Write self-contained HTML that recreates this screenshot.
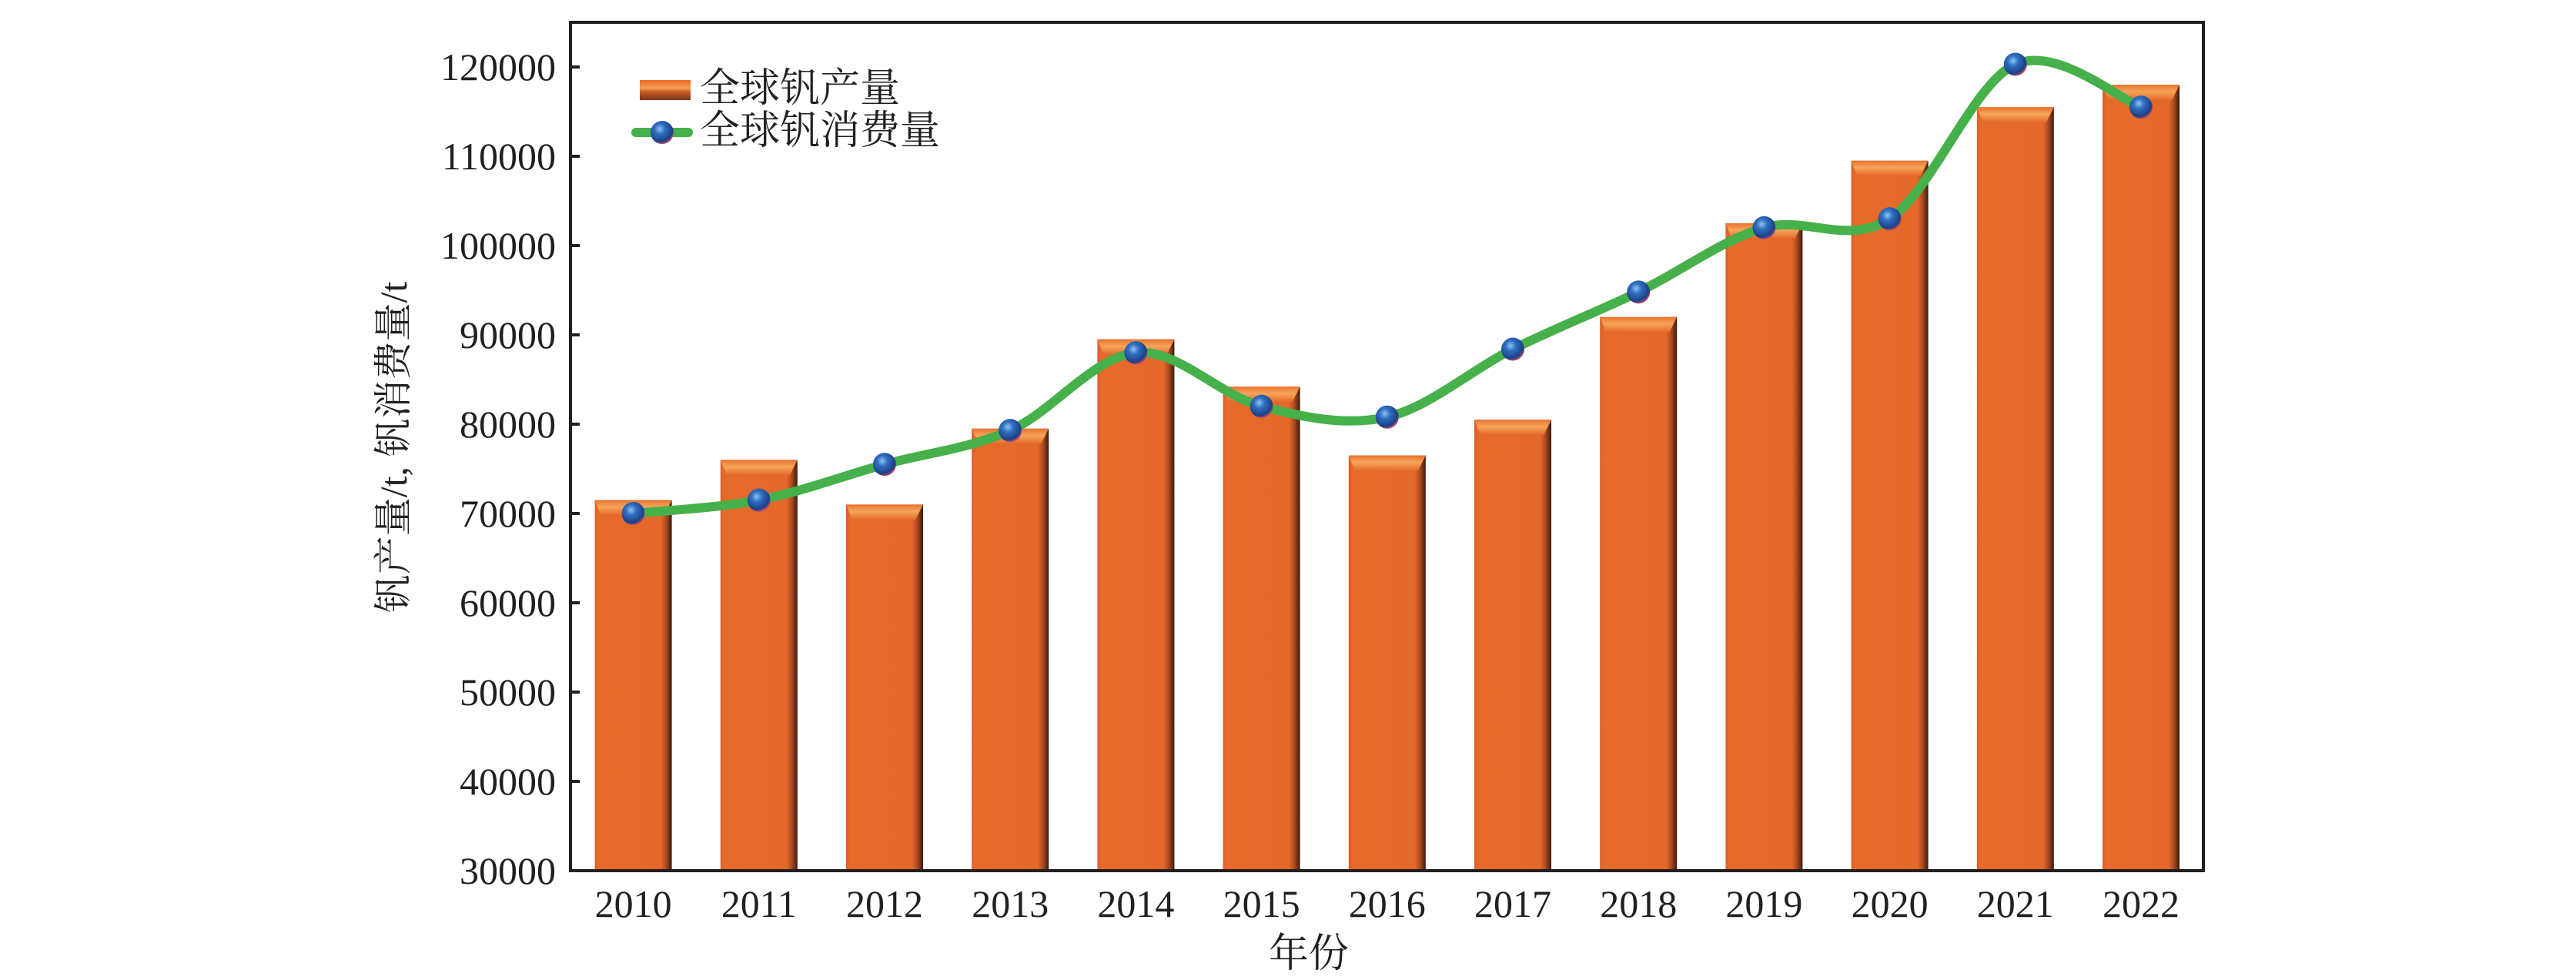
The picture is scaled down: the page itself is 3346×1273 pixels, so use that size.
<!DOCTYPE html>
<html><head><meta charset="utf-8"><style>
html,body{margin:0;padding:0;background:#fff;}
svg{display:block;}
text{font-family:"Liberation Serif","Noto Serif CJK SC","Noto Sans CJK SC",serif;fill:#231f20;}
</style></head><body>
<svg id="s" width="3346" height="1273" viewBox="0 0 3346 1273" xmlns="http://www.w3.org/2000/svg">
<defs>
<linearGradient id="bh" x1="0" x2="1" y1="0" y2="0">
<stop offset="0" stop-color="#d9602a"/>
<stop offset="0.05" stop-color="#e66a2a"/>
<stop offset="0.86" stop-color="#e4682a"/>
<stop offset="0.93" stop-color="#a8481f"/>
<stop offset="1" stop-color="#3b1a0c"/>
</linearGradient>
<linearGradient id="bt" x1="0" x2="0" y1="0" y2="1">
<stop offset="0" stop-color="#e8722e"/>
<stop offset="0.45" stop-color="#f6a55a"/>
<stop offset="1" stop-color="#e4682a"/>
</linearGradient>
<radialGradient id="ball" cx="0.4" cy="0.35" r="0.65">
<stop offset="0" stop-color="#8fc3f0"/>
<stop offset="0.35" stop-color="#2f6fc0"/>
<stop offset="0.85" stop-color="#1d3f86"/>
<stop offset="1" stop-color="#b04a6a"/>
</radialGradient>
<linearGradient id="lg" x1="0" x2="0" y1="0" y2="1">
<stop offset="0" stop-color="#e86a26"/>
<stop offset="0.4" stop-color="#f5a055"/>
<stop offset="0.6" stop-color="#c65a22"/>
<stop offset="1" stop-color="#7a3615"/>
</linearGradient>
</defs>
<g id="bars"></g>
<path id="curve" fill="none" stroke="#46b04a" stroke-width="12" stroke-linecap="round"/>
<g id="marks"></g>
<rect x="741" y="29" width="2121" height="1102" fill="none" stroke="#231f20" stroke-width="4"/>
<g id="ticks"></g>
<!-- legend -->
<rect x="831" y="104" width="66" height="26" fill="url(#lg)"/>
<text x="909" y="132" font-size="52">全球钒产量</text>
<line x1="826" y1="172" x2="894" y2="172" stroke="#46b04a" stroke-width="12" stroke-linecap="round"/>
<circle cx="860" cy="172" r="15" fill="url(#ball)"/>
<text x="909" y="187" font-size="52">全球钒消费量</text>
<text x="1700" y="1256" font-size="52" text-anchor="middle">年份</text>
<text transform="translate(528,581) rotate(-90)" font-size="50" text-anchor="middle">钒产量/t, 钒消费量/t</text>
</svg>
<script>
var NS="http://www.w3.org/2000/svg";
function Y(v){return 1131-(v-30000)/95000*1102;}
function X(i){return 741+81.6+i*163.2;}
var prod=[71500,76000,71000,79500,89500,84200,76500,80500,92000,102500,109500,115500,118000];
var cons=[70000,71500,75500,79300,88000,82000,80800,88400,94800,102000,103000,120300,115500];
var bars=document.getElementById('bars'),h='';
for(var i=0;i<13;i++){
 var x=X(i)-50,y=Y(prod[i]);
 h+='<rect x="'+x+'" y="'+y+'" width="100" height="'+(1131-y)+'" fill="url(#bh)"/>';
 h+='<polygon points="'+x+','+y+' '+(x+100)+','+y+' '+(x+90)+','+(y+20)+' '+(x+8)+','+(y+20)+'" fill="url(#bt)"/>';
}
bars.innerHTML=h;
var p=[];for(i=0;i<13;i++)p.push([X(i),Y(cons[i])]);
var d='M'+p[0][0]+','+p[0][1];
for(i=0;i<12;i++){
 var p0=p[Math.max(i-1,0)],p1=p[i],p2=p[i+1],p3=p[Math.min(i+2,12)];
 var c1=[p1[0]+(p2[0]-p0[0])/6,p1[1]+(p2[1]-p0[1])/6];
 var c2=[p2[0]-(p3[0]-p1[0])/6,p2[1]-(p3[1]-p1[1])/6];
 d+=' C'+c1+' '+c2+' '+p2;
}
document.getElementById('curve').setAttribute('d',d);
h='';for(i=0;i<13;i++)h+='<circle cx="'+p[i][0]+'" cy="'+p[i][1]+'" r="15" fill="url(#ball)"/>';
document.getElementById('marks').innerHTML=h;
h='';
for(var v=30000;v<=120000;v+=10000){
 var y=Y(v);
 h+='<line x1="741" y1="'+y+'" x2="753" y2="'+y+'" stroke="#231f20" stroke-width="4"/>';
 h+='<text x="722" y="'+(y+17)+'" font-size="50" text-anchor="end">'+v+'</text>';
}
for(i=0;i<13;i++)h+='<text x="'+X(i)+'" y="1191" font-size="50" text-anchor="middle">'+(2010+i)+'</text>';
document.getElementById('ticks').innerHTML=h;
</script>
</body></html>
